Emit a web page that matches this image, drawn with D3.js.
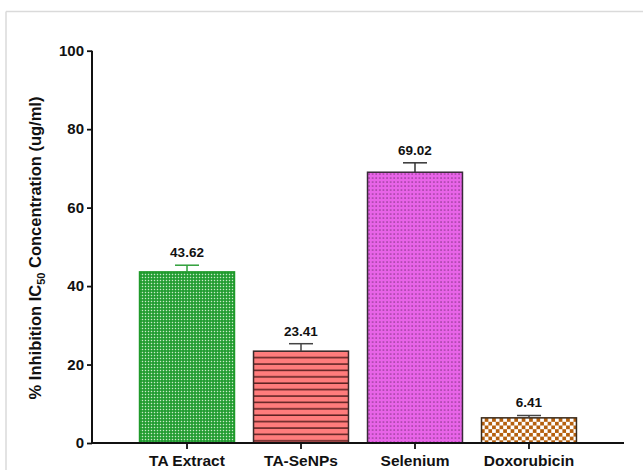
<!DOCTYPE html>
<html><head><meta charset="utf-8">
<script src="https://cdn.jsdelivr.net/npm/d3@7"></script>
<style>
html,body{margin:0;padding:0;background:#fff;}
svg{display:block;font-family:"Liberation Sans",Arial,sans-serif;font-weight:bold;}
</style></head>
<body>
<svg id="chart" width="643" height="470"></svg>
<script>
const categories = ["TA Extract", "TA-SeNPs", "Selenium", "Doxorubicin"];
const values = [43.62, 23.41, 69.02, 6.41];
const errors = [1.7, 1.9, 2.4, 0.6];
const valueLabels = ["43.62", "23.41", "69.02", "6.41"];
const yTicks = [0, 20, 40, 60, 80, 100];
const patternIds = ["pGreen", "pRed", "pMagenta", "pBrown"];
const strokeColors = ["#1f9a2a", "#3a2a2a", "#3a2a3a", "#3a2a1a"];
const errColors = ["#2f9f3a", "#444", "#333", "#444"];

const svg = d3.select("#chart");

// frame lines
svg.append("line").attr("x1", 6).attr("x2", 643).attr("y1", 11.5).attr("y2", 11.5)
  .attr("stroke", "#dadada").attr("stroke-width", 1.5);
svg.append("line").attr("x1", 6).attr("x2", 6).attr("y1", 11.5).attr("y2", 470)
  .attr("stroke", "#dadada").attr("stroke-width", 1.5);

const defs = svg.append("defs");
// green fine checker
let p = defs.append("pattern").attr("id", "pGreen").attr("patternUnits", "userSpaceOnUse")
  .attr("width", 3).attr("height", 3);
p.append("rect").attr("width", 3).attr("height", 3).attr("fill", "#1c9a2c");
p.append("rect").attr("x", 0.8).attr("y", 0.8).attr("width", 1.4).attr("height", 1.4).attr("fill", "#c8eac8");
// red stripes
p = defs.append("pattern").attr("id", "pRed").attr("patternUnits", "userSpaceOnUse")
  .attr("width", 10).attr("height", 6.4);
p.append("rect").attr("width", 10).attr("height", 6.4).attr("fill", "#ff7c7c");
p.append("rect").attr("y", 4.9).attr("width", 10).attr("height", 1.5).attr("fill", "#5a2020");
// magenta dots
p = defs.append("pattern").attr("id", "pMagenta").attr("patternUnits", "userSpaceOnUse")
  .attr("width", 3.6).attr("height", 4);
p.append("rect").attr("width", 3.6).attr("height", 4).attr("fill", "#e864e8");
p.append("rect").attr("x", 1.3).attr("y", 1.5).attr("width", 1.1).attr("height", 1.1).attr("fill", "#5a205a");
// brown checker
p = defs.append("pattern").attr("id", "pBrown").attr("patternUnits", "userSpaceOnUse")
  .attr("width", 7.4).attr("height", 7.4);
p.append("rect").attr("width", 7.4).attr("height", 7.4).attr("fill", "#ffffff");
p.append("rect").attr("width", 3.7).attr("height", 3.7).attr("fill", "#b5600e");
p.append("rect").attr("x", 3.7).attr("y", 3.7).attr("width", 3.7).attr("height", 3.7).attr("fill", "#b5600e");

const x = d3.scaleBand().domain(categories).range([92, 624])
  .paddingInner(0.167).paddingOuter(0.417);
const y = d3.scaleLinear().domain([0, 100]).range([443, 50.7]);

const data = categories.map((c, i) => ({c, v: values[i], e: errors[i], l: valueLabels[i], i}));

// bars
svg.selectAll("rect.bar").data(data).enter().append("rect").attr("class", "bar")
  .attr("x", d => x(d.c)).attr("width", x.bandwidth())
  .attr("y", d => y(d.v)).attr("height", d => y(0) - y(d.v))
  .attr("fill", d => `url(#${patternIds[d.i]})`)
  .attr("stroke", d => strokeColors[d.i]).attr("stroke-width", 1.5);

// error bars
const eg = svg.selectAll("g.err").data(data).enter().append("g").attr("class", "err");
eg.append("line")
  .attr("x1", d => x(d.c) + x.bandwidth() / 2).attr("x2", d => x(d.c) + x.bandwidth() / 2)
  .attr("y1", d => y(d.v)).attr("y2", d => y(d.v + d.e))
  .attr("stroke", d => errColors[d.i]).attr("stroke-width", 1.5);
eg.append("line")
  .attr("x1", d => x(d.c) + x.bandwidth() / 2 - 12).attr("x2", d => x(d.c) + x.bandwidth() / 2 + 12)
  .attr("y1", d => y(d.v + d.e)).attr("y2", d => y(d.v + d.e))
  .attr("stroke", d => errColors[d.i]).attr("stroke-width", 1.5);

// value labels
svg.selectAll("text.val").data(data).enter().append("text").attr("class", "val")
  .attr("x", d => x(d.c) + x.bandwidth() / 2)
  .attr("y", d => y(d.v + d.e) - 8)
  .attr("text-anchor", "middle").attr("font-size", 13.5).attr("fill", "#111")
  .text(d => d.l);

// y axis
const yAxis = svg.append("g").attr("transform", "translate(92,0)")
  .call(d3.axisLeft(y).tickValues(yTicks).tickSize(5).tickPadding(3).tickFormat(d3.format("d")));
yAxis.select(".domain").attr("stroke", "#111").attr("stroke-width", 2)
  .attr("d", `M0,${y(100)}V${y(0)}`);
yAxis.selectAll(".tick line").attr("stroke", "#111").attr("stroke-width", 1.8);
yAxis.selectAll(".tick text").attr("font-size", 15).attr("font-weight", "bold")
  .attr("font-family", '"Liberation Sans",Arial,sans-serif').attr("fill", "#111");

// x axis
const xAxis = svg.append("g").attr("transform", "translate(0,443)")
  .call(d3.axisBottom(x).tickSize(6).tickPadding(6));
xAxis.select(".domain").attr("stroke", "#111").attr("stroke-width", 2)
  .attr("d", "M92,0H624");
xAxis.selectAll(".tick line").attr("stroke", "#111").attr("stroke-width", 1.8);
xAxis.selectAll(".tick text").attr("font-size", 15.5).attr("font-weight", "bold")
  .attr("font-family", '"Liberation Sans",Arial,sans-serif').attr("fill", "#111");

// y title
const t = svg.append("text").attr("transform", "translate(41,248) rotate(-90)")
  .attr("text-anchor", "middle").attr("font-size", 16.5).attr("fill", "#111");
t.append("tspan").text("% Inhibition IC");
t.append("tspan").attr("font-size", 11).attr("dy", 4).text("50");
t.append("tspan").attr("dy", -4).text(" Concentration (ug/ml)");
</script>
</body></html>
